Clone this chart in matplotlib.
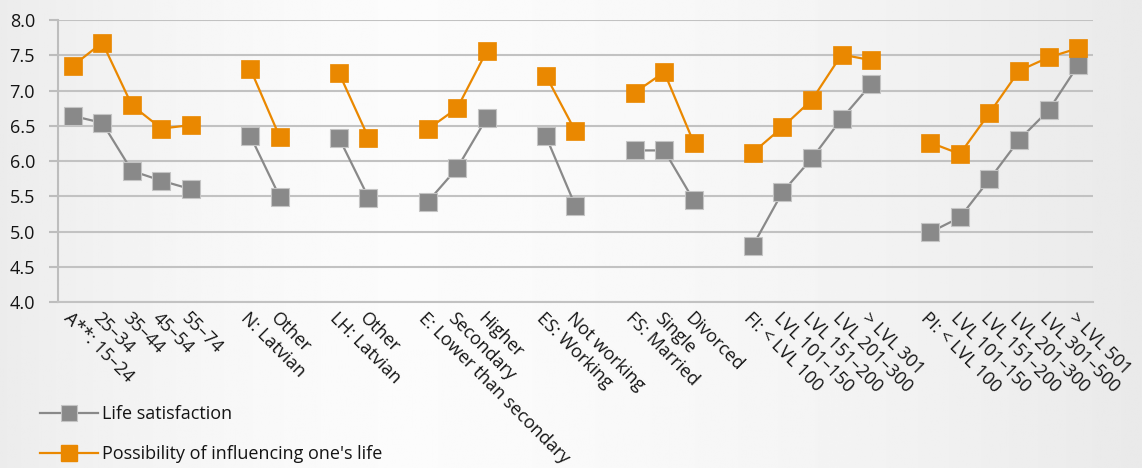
import numpy as np
import matplotlib
matplotlib.use("Agg")
import matplotlib.pyplot as plt
from matplotlib.lines import Line2D

plt.rcParams["font.family"] = ["Open Sans", "DejaVu Sans"]

# Category labels; empty strings are spacer slots between groups
categories = [
    "A**: 15–24", "25–34", "35–44", "45–54", "55–74", "",
    "N: Latvian", "Other", "",
    "LH: Latvian", "Other", "",
    "E: Lower than secondary", "Secondary", "Higher", "",
    "ES: Working", "Not working", "",
    "FS: Married", "Single", "Divorced", "",
    "FI: < LVL 100", "LVL 101–150", "LVL 151–200", "LVL 201–300", "> LVL 301", "",
    "PI: < LVL 100", "LVL 101–150", "LVL 151–200", "LVL 201–300", "LVL 301–500", "> LVL 501",
]

nan = np.nan
life_satisfaction = [
    6.64, 6.54, 5.86, 5.72, 5.60, nan,
    6.36, 5.49, nan,
    6.33, 5.48, nan,
    5.42, 5.90, 6.61, nan,
    6.35, 5.36, nan,
    6.15, 6.15, 5.44, nan,
    4.80, 5.56, 6.04, 6.60, 7.09, nan,
    4.99, 5.20, 5.74, 6.30, 6.72, 7.36,
]
influence = [
    7.35, 7.68, 6.79, 6.46, 6.51, nan,
    7.31, 6.34, nan,
    7.25, 6.33, nan,
    6.45, 6.75, 7.56, nan,
    7.21, 6.42, nan,
    6.97, 7.26, 6.26, nan,
    6.12, 6.48, 6.87, 7.51, 7.43, nan,
    6.26, 6.10, 6.68, 7.28, 7.47, 7.60,
]
y_ticks = [4.0, 4.5, 5.0, 5.5, 6.0, 6.5, 7.0, 7.5, 8.0]

series_names = ["Life satisfaction", "Possibility of influencing one's life"]
gray = "#898989"
orange = "#EA8800"
text_color = "#141414"

fig = plt.figure(figsize=(11.42, 4.68), dpi=100)

# Soft horizontal background gradient
bg = fig.add_axes([0, 0, 1, 1], zorder=-10)
xs = np.linspace(0, 1, 400)
shade = 0.985 - 0.07 * np.abs(xs - 0.35) ** 1.6 / (0.65 ** 1.6)
shade[xs < 0.35] = 0.985 - 0.06 * ((0.35 - xs[xs < 0.35]) / 0.35) ** 1.6
bg.imshow(np.tile(shade, (2, 1)), cmap="gray", vmin=0, vmax=1,
          aspect="auto", extent=[0, 1, 0, 1])
bg.set_axis_off()

ax = fig.add_axes([58 / 1142, 1 - 302 / 468, (1093 - 58) / 1142, (302 - 20) / 468])
ax.set_facecolor("none")

x = np.arange(len(categories)) + 0.5
ax.plot(x, life_satisfaction, color=gray, lw=1.6, marker="s", ms=12.5,
        mfc=gray, mec="#c4c4c4", mew=0.8, zorder=3)
ax.plot(x, influence, color=orange, lw=1.6, marker="s", ms=12.5,
        mfc=orange, mec=orange, mew=0.5, zorder=4)

ax.set_xlim(0, len(categories))
ax.set_ylim(4.0, 8.0)
ax.set_yticks(y_ticks)
ax.set_yticklabels([f"{v:.1f}" for v in y_ticks], fontsize=13, color=text_color)
ax.yaxis.grid(True, color="#c2c2c2", lw=1.5)
ax.set_axisbelow(True)

for s in ["top", "right"]:
    ax.spines[s].set_visible(False)
ax.spines["left"].set_color("#bdbdbd")
ax.spines["left"].set_linewidth(1.5)
ax.spines["bottom"].set_color("#c2c2c2")
ax.spines["bottom"].set_linewidth(1.5)
ax.tick_params(axis="y", length=6.5, width=1.5, color="#bdbdbd", pad=10)
ax.tick_params(axis="x", length=0, pad=5)

ax.set_xticks(x)
ax.set_xticklabels(categories, rotation=-45, ha="left", va="top",
                   rotation_mode="anchor", fontsize=13, color=text_color)

handles = [
    Line2D([], [], color=gray, lw=1.6, marker="s", ms=11, mfc=gray, mec="#c4c4c4", mew=0.8),
    Line2D([], [], color=orange, lw=1.6, marker="s", ms=11, mfc=orange, mec=orange),
]
fig.legend(handles, series_names, loc="upper left", bbox_to_anchor=(24 / 1142, 1 - 389 / 468),
           frameon=False, fontsize=13, handlelength=3.2, handletextpad=0.2,
           labelspacing=1.2, labelcolor=text_color)

fig.savefig("out.png", dpi=100)
